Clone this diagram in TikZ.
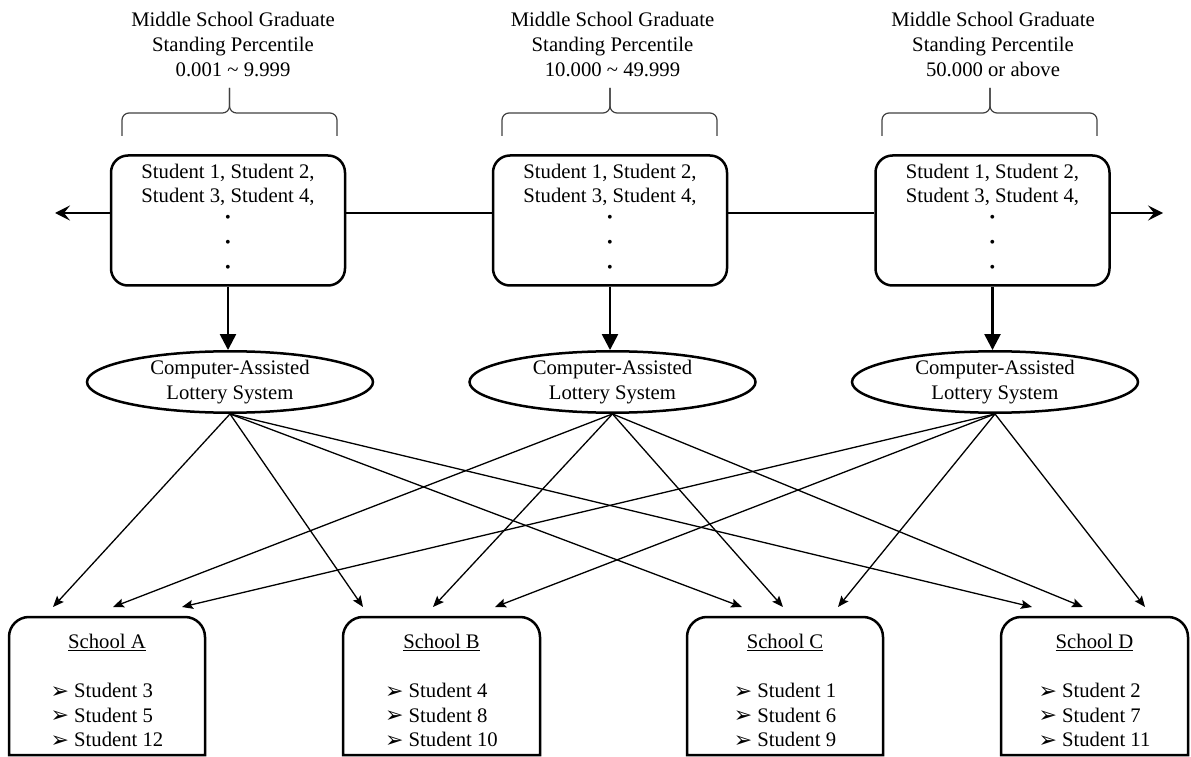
\documentclass[tikz,border=0pt]{standalone}
\usepackage{fontspec}
\setmainfont{Liberation Serif}
\newfontfamily\dvsans{DejaVu Sans}
\usetikzlibrary{arrows.meta,shapes.geometric}
\newcommand{\itm}{\raisebox{-0.5pt}{\dvsans\fontsize{22}{22}\selectfont ➢}\hspace{5pt}}
\newcommand{\bdot}{{\fontsize{16}{16}\selectfont\textbullet}}
\newcommand{\schoolframe}[1]{\draw[sframeline] (#1.south west) -- ([yshift=-20pt]#1.north west) arc[start angle=180,end angle=90,radius=20pt] -- ([xshift=-20pt]#1.north east) arc[start angle=90,end angle=0,radius=20pt] -- (#1.south east) -- cycle;}
\begin{document}
\begin{tikzpicture}[x=1pt,y=1pt,
  every node/.style={font=\fontsize{20.7}{24.6}\selectfont},
  topbox/.style={draw, line width=2.5pt, rounded corners=17pt, fill=white, minimum width=234pt, minimum height=130pt, inner sep=0pt, align=center, font=\fontsize{20.7}{24}\selectfont},
  lotto/.style={draw, ellipse, line width=2.5pt, minimum width=286pt, minimum height=60pt, inner sep=0pt, align=center, fill=white},
  school/.style={minimum height=138pt, inner sep=0pt, outer sep=0pt, align=center},
  sframeline/.style={line width=2.5pt},
  title/.style={align=center, inner sep=0pt, anchor=north},
  brace/.style={line width=1.2pt, black!75, rounded corners=7pt},
  hline/.style={line width=2.6pt},
  harrow/.style={line width=2.6pt, -{Stealth[length=15pt,width=15pt,inset=6pt]}},
  darrow/.style={line width=2.5pt, -{Triangle[length=16pt,width=16pt]}},
  lotarrow/.style={line width=1.3pt, -{Stealth[length=11pt,width=9pt,inset=2pt]}},
]
\useasboundingbox (0,0) rectangle (1191,756);

% titles
\node[title] (T1) at (233,743.6) {Middle School Graduate\\Standing Percentile\\0.001 \textasciitilde{} 9.999};
\node[title] (T2) at (612.5,743.6) {Middle School Graduate\\Standing Percentile\\10.000 \textasciitilde{} 49.999};
\node[title] (T3) at (993,743.6) {Middle School Graduate\\Standing Percentile\\50.000 or above};

% braces
\draw[brace] (122,620) -- (122,643) -- (229.5,643) -- (229.5,668);
\draw[brace] (337,620) -- (337,643) -- (229.5,643) -- (229.5,668);
\draw[brace] (502,620) -- (502,643) -- (610,643) -- (610,668);
\draw[brace] (717,620) -- (717,643) -- (610,643) -- (610,668);
\draw[brace] (882,620) -- (882,643) -- (990,643) -- (990,668);
\draw[brace] (1097,620) -- (1097,643) -- (990,643) -- (990,668);

% student group boxes
\node[topbox] (B1) at (228,535.5) {Student 1, Student 2,\\Student 3, Student 4,\\[-4pt]\bdot\\[1pt]\bdot\\[1pt]\bdot\rule[-5.1pt]{0pt}{5.1pt}};
\node[topbox] (B2) at (610,535.5) {Student 1, Student 2,\\Student 3, Student 4,\\[-4pt]\bdot\\[1pt]\bdot\\[1pt]\bdot\rule[-5.1pt]{0pt}{5.1pt}};
\node[topbox] (B3) at (992.5,535.5) {Student 1, Student 2,\\Student 3, Student 4,\\[-4pt]\bdot\\[1pt]\bdot\\[1pt]\bdot\rule[-5.1pt]{0pt}{5.1pt}};

% horizontal line
\coordinate (Lend) at (55,543);
\coordinate (Rend) at (1163,543);
\draw[harrow] ([yshift=7.5pt]B1.west) -- (Lend);
\draw[hline] ([yshift=7.5pt]B1.east) -- ([yshift=7.5pt]B2.west);
\draw[hline] ([yshift=7.5pt]B2.east) -- ([yshift=7.5pt]B3.west);
\draw[harrow] ([yshift=7.5pt]B3.east) -- (Rend);

% lottery ellipses
\node[lotto] (E1) at (230,374) {Computer-Assisted\\Lottery System};
\node[lotto] (E2) at (612.5,374) {Computer-Assisted\\Lottery System};
\node[lotto] (E3) at (995,374) {Computer-Assisted\\Lottery System};

\draw[darrow] (B1.south) -- (B1.south |- E1.north);
\draw[darrow] (B2.south) -- (B2.south |- E2.north);
\draw[darrow] (B3.south) -- (B3.south |- E3.north);

% schools
\node[school, minimum width=196pt] (A) at (107,70) {\rule{0pt}{30.4pt}\underline{School A}\\[24.6pt]\begin{tabular}[t]{@{}l@{}}\itm Student 3\\\itm Student 5\\\itm Student 12\end{tabular}};
\node[school, minimum width=197pt] (B) at (441.5,70) {\rule{0pt}{30.4pt}\underline{School B}\\[24.6pt]\begin{tabular}[t]{@{}l@{}}\itm Student 4\\\itm Student 8\\\itm Student 10\end{tabular}};
\node[school, minimum width=196pt] (C) at (785,70) {\rule{0pt}{30.4pt}\underline{School C}\\[24.6pt]\begin{tabular}[t]{@{}l@{}}\itm Student 1\\\itm Student 6\\\itm Student 9\end{tabular}};
\node[school, minimum width=187pt] (D) at (1094.5,70) {\rule{0pt}{30.4pt}\underline{School D}\\[24.6pt]\begin{tabular}[t]{@{}l@{}}\itm Student 2\\\itm Student 7\\\itm Student 11\end{tabular}};
\schoolframe{A}
\schoolframe{B}
\schoolframe{C}
\schoolframe{D}

% lottery assignments
\draw[lotarrow] (E1.south) -- ([xshift=-54pt,yshift=10pt]A.north);
\draw[lotarrow] (E1.south) -- ([xshift=-78.5pt,yshift=10pt]B.north);
\draw[lotarrow] (E1.south) -- ([xshift=-43pt,yshift=10pt]C.north);
\draw[lotarrow] (E1.south) -- ([xshift=-62.5pt,yshift=10pt]D.north);
\draw[lotarrow] (E2.south) -- ([xshift=6pt,yshift=10pt]A.north);
\draw[lotarrow] (E2.south) -- ([xshift=-8.5pt,yshift=10pt]B.north);
\draw[lotarrow] (E2.south) -- ([xshift=-2pt,yshift=10pt]C.north);
\draw[lotarrow] (E2.south) -- ([xshift=-11.5pt,yshift=10pt]D.north);
\draw[lotarrow] (E3.south) -- ([xshift=75pt,yshift=10pt]A.north);
\draw[lotarrow] (E3.south) -- ([xshift=53.5pt,yshift=10pt]B.north);
\draw[lotarrow] (E3.south) -- ([xshift=53pt,yshift=10pt]C.north);
\draw[lotarrow] (E3.south) -- ([xshift=50.5pt,yshift=10pt]D.north);
\end{tikzpicture}
\end{document}
